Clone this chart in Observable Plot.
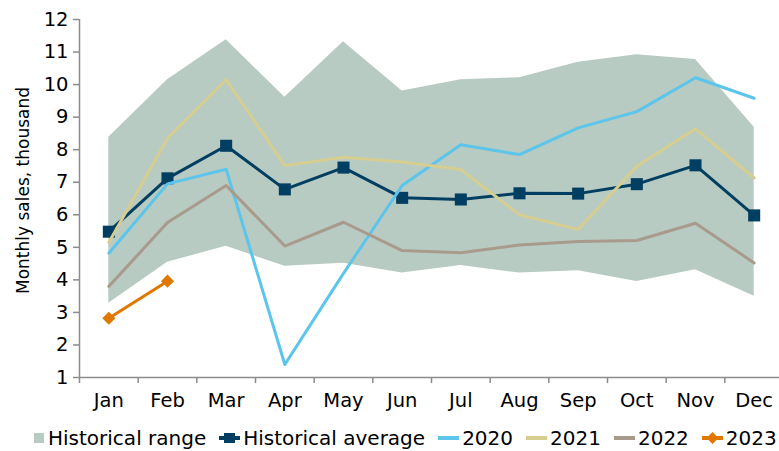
<!DOCTYPE html>
<html>
<head>
<meta charset="utf-8">
<script src="https://cdn.jsdelivr.net/npm/d3@7"></script>
<script src="https://cdn.jsdelivr.net/npm/@observablehq/plot@0.6"></script>
<style>
  html, body { margin: 0; padding: 0; background: #fff; }
  body { width: 779px; height: 451px; overflow: hidden; font-family: "DejaVu Sans", Verdana, sans-serif; }
  #legend { display: flex; align-items: center; height: 26px; padding-top: 7px; padding-left: 34px; font-size: 20px; color: #000; white-space: nowrap; }
  .item { display: flex; align-items: center; margin-right: 13px; }
  .item svg { margin-right: 3px; display: block; }
</style>
</head>
<body>
<div id="chart"></div>
<div id="legend"></div>
<script>
const months = ["Jan","Feb","Mar","Apr","May","Jun","Jul","Aug","Sep","Oct","Nov","Dec"];
const rangeLow  = [3.28, 4.54, 5.03, 4.42, 4.51, 4.21, 4.44, 4.21, 4.28, 3.95, 4.31, 3.50];
const rangeHigh = [8.38, 10.15, 11.38, 9.61, 11.32, 9.80, 10.15, 10.21, 10.69, 10.92, 10.77, 8.69];
const histAvg   = [5.48, 7.12, 8.12, 6.78, 7.45, 6.52, 6.47, 6.66, 6.65, 6.94, 7.52, 5.98];
const s2020 = [4.82, 6.95, 7.40, 1.40, 4.20, 6.90, 8.15, 7.85, 8.67, 9.17, 10.21, 9.58];
const s2021 = [5.15, 8.35, 10.15, 7.51, 7.77, 7.62, 7.39, 6.00, 5.55, 7.49, 8.64, 7.13];
const s2022 = [3.80, 5.76, 6.90, 5.04, 5.77, 4.90, 4.83, 5.07, 5.18, 5.21, 5.74, 4.52];
const s2023 = [2.82, 3.96];
const yTicks = [1,2,3,4,5,6,7,8,9,10,11,12];
const yLabel = "Monthly sales, thousand";
const legendNames = ["Historical range","Historical average","2020","2021","2022","2023"];

const C = {
  range: "#b8cbc2", avg: "#003f62", y2020: "#5bc5eb", y2021: "#d5ce90",
  y2022: "#a89b8c", y2023: "#e07800", axis: "#8c8c8c"
};

const idx = months.map((m, i) => i);
const bounds = months.map((m, i) => i - 0.5).concat([months.length - 0.5]);
const X = (d, i) => i;
const Y = d => d;

const chart = Plot.plot({
  width: 779,
  height: 418,
  marginLeft: 79,
  marginRight: 0,
  marginTop: 19,
  marginBottom: 41,
  style: { fontFamily: "DejaVu Sans, Verdana, sans-serif", fontSize: "19px", color: "#000", background: "#fff" },
  x: { type: "linear", domain: [-0.5, months.length - 0.5], range: [79, 783] },
  y: { domain: [1, 12], range: [377, 19] },
  marks: [
    Plot.areaY(idx, { x: d => d, y1: d => rangeLow[d], y2: d => rangeHigh[d], fill: C.range }),
    Plot.lineY(histAvg, { x: X, y: Y, stroke: C.avg, strokeWidth: 3 }),
    Plot.dot(histAvg, { x: X, y: Y, symbol: "square", r: 6.8, fill: C.avg, stroke: "none" }),
    Plot.lineY(s2020, { x: X, y: Y, stroke: C.y2020, strokeWidth: 3 }),
    Plot.lineY(s2021, { x: X, y: Y, stroke: C.y2021, strokeWidth: 3 }),
    Plot.lineY(s2022, { x: X, y: Y, stroke: C.y2022, strokeWidth: 3 }),
    Plot.lineY(s2023, { x: X, y: Y, stroke: C.y2023, strokeWidth: 3 }),
    Plot.dot(s2023, { x: X, y: Y, symbol: "diamond2", r: 5.9, fill: C.y2023, stroke: "none" }),
    Plot.ruleY([1], { stroke: C.axis, strokeWidth: 1.5 }),
    Plot.ruleX([-0.5], { y1: 1, y2: 12, stroke: C.axis, strokeWidth: 1.5 }),
    Plot.axisY(yTicks, { tickSize: 6, tickPadding: 5, stroke: C.axis, strokeWidth: 1.5, fill: "#000", fontSize: 19.5, label: null }),
    Plot.axisX(bounds, { tickSize: 6, tickFormat: () => "", stroke: C.axis, strokeWidth: 1.5, label: null }),
    Plot.axisX(idx, { tickSize: 0, tickPadding: 16, tickFormat: i => months[i], fill: "#000", fontSize: 19.5, label: null }),
    Plot.text([yLabel], { text: d => d, frameAnchor: "left", textAnchor: "middle", rotate: -90, dx: -56, dy: -8, fontSize: 17, fill: "#000" })
  ]
});
document.getElementById("chart").appendChild(chart);

// Legend
const icons = [
  `<svg width="10" height="10"><rect width="10" height="10" fill="${C.range}"/></svg>`,
  `<svg width="21" height="12"><line x1="0" x2="21" y1="6" y2="6" stroke="${C.avg}" stroke-width="4"/><rect x="5" y="1" width="11" height="10" fill="${C.avg}"/></svg>`,
  `<svg width="21" height="6"><line x1="0" x2="21" y1="3" y2="3" stroke="${C.y2020}" stroke-width="4"/></svg>`,
  `<svg width="21" height="6"><line x1="0" x2="21" y1="3" y2="3" stroke="${C.y2021}" stroke-width="4"/></svg>`,
  `<svg width="21" height="6"><line x1="0" x2="21" y1="3" y2="3" stroke="${C.y2022}" stroke-width="4"/></svg>`,
  `<svg width="21" height="14"><line x1="0" x2="21" y1="7" y2="7" stroke="${C.y2023}" stroke-width="4"/><path d="M10.5,1 L16.5,7 L10.5,13 L4.5,7 Z" fill="${C.y2023}"/></svg>`
];
const legend = document.getElementById("legend");
legendNames.forEach((name, i) => {
  const it = document.createElement("div");
  it.className = "item";
  it.innerHTML = icons[i] + `<span>${name}</span>`;
  if (i === 0) it.querySelector("svg").style.marginRight = "4px";
  legend.appendChild(it);
});
</script>
</body>
</html>
